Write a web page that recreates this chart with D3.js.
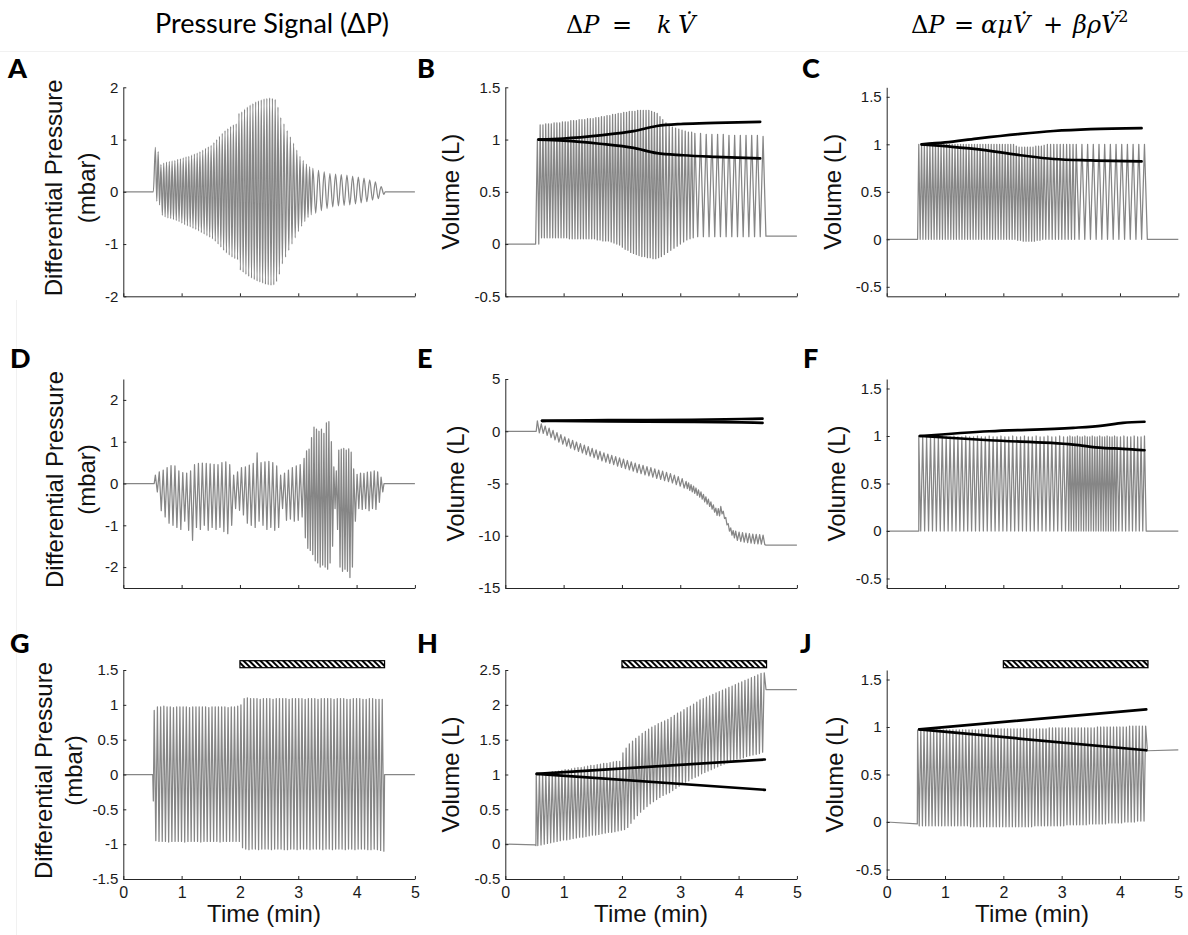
<!DOCTYPE html>
<html><head><meta charset="utf-8">
<script src="https://cdn.jsdelivr.net/npm/d3@7"></script>
<style>body{margin:0;background:#fff}svg{display:block}</style>
</head><body>
<svg id="chart" width="1188" height="935"></svg>
<script>
// ---------------- DATA ----------------
const timeTicks = [0, 1, 2, 3, 4, 5];
const hatchSpan = [2.0, 4.48];

// cycle index -> time (min) key points, one set per recording (row)
const row1CycleIdx = [0, 45, 55, 67];
const row1CycleT   = [0.55, 2.70, 3.25, 4.42];
const row2CycleIdx = [0, 38, 58, 66];
const row2CycleT   = [0.55, 3.10, 3.95, 4.42];
const row3CycleIdx = [0, 71];
const row3CycleT   = [0.53, 4.44];

// Panel A: pressure (mbar)
const aTicks = [-2, -1, 0, 1, 2];
const aPeaks = [0.85,0.77,0.52,0.55,0.57,0.58,0.59,0.60,0.62,0.63,
 0.65,0.67,0.68,0.70,0.72,0.74,0.77,0.80,0.83,0.86,
 0.89,0.94,1.00,1.06,1.12,1.17,1.21,1.25,1.28,1.30,
 1.50,1.53,1.58,1.62,1.66,1.69,1.72,1.74,1.76,1.78,
 1.79,1.80,1.79,1.77,1.62,1.42,1.30,1.17,1.05,0.93,
 0.80,0.68,0.60,0.53,0.48,0.45,0.41,0.38,0.35,0.34,
 0.33,0.32,0.30,0.28,0.26,0.23,0.19,0.10];
const aTroughs = [-0.18,-0.25,-0.45,-0.48,-0.50,-0.51,-0.53,-0.55,-0.57,-0.60,
 -0.63,-0.65,-0.67,-0.70,-0.72,-0.75,-0.78,-0.81,-0.84,-0.87,
 -0.90,-0.95,-1.00,-1.06,-1.12,-1.17,-1.21,-1.25,-1.28,-1.30,
 -1.50,-1.54,-1.58,-1.62,-1.65,-1.68,-1.71,-1.73,-1.75,-1.77,
 -1.78,-1.79,-1.78,-1.72,-1.58,-1.38,-1.25,-1.12,-1.00,-0.88,
 -0.76,-0.66,-0.57,-0.49,-0.44,-0.41,-0.36,-0.32,-0.29,-0.27,
 -0.26,-0.25,-0.23,-0.21,-0.19,-0.16,-0.13,-0.05];
const aLead = [[0,0],[0.515,0]];
const aTail = [[4.49,0],[5,0]];

// Panel B: volume, linear model (L)
const volTicks = [-0.5, 0, 0.5, 1, 1.5];
const bPeaks = [1.00,1.14,1.14,1.15,1.15,1.15,1.16,1.16,1.16,1.17,
 1.17,1.17,1.18,1.18,1.18,1.19,1.19,1.19,1.20,1.20,
 1.20,1.21,1.21,1.22,1.22,1.23,1.23,1.24,1.24,1.25,
 1.25,1.26,1.26,1.27,1.27,1.27,1.28,1.28,1.28,1.28,
 1.28,1.27,1.26,1.25,1.22,1.19,1.16,1.13,1.12,1.11,
 1.10,1.09,1.08,1.07,1.07,1.06,1.06,1.05,1.05,1.05,
 1.05,1.04,1.04,1.04,1.04,1.04,1.04,1.03];
const bTroughs = [0.00,0.06,0.06,0.06,0.06,0.06,0.06,0.06,0.06,0.06,
 0.06,0.05,0.05,0.05,0.05,0.05,0.05,0.05,0.05,0.05,
 0.05,0.04,0.04,0.03,0.03,0.03,0.02,0.01,0.00,-0.01,
 -0.03,-0.05,-0.06,-0.08,-0.09,-0.10,-0.11,-0.12,-0.12,-0.13,
 -0.13,-0.14,-0.14,-0.13,-0.12,-0.10,-0.08,-0.06,-0.04,-0.02,
 0.00,0.02,0.04,0.05,0.06,0.07,0.07,0.07,0.07,0.07,
 0.07,0.07,0.07,0.07,0.07,0.07,0.07,0.075];
const bLead = [[0,0],[0.52,0]];
const bTail = [[4.49,0.075],[5,0.075]];
const bFitUpper = [[0.57,1.0],[1.0,1.01],[1.62,1.04],[2.2,1.08],[2.6,1.13],[3.05,1.15],[3.6,1.16],[4.37,1.17]];
const bFitLower = [[0.57,1.0],[1.0,0.99],[1.62,0.96],[2.2,0.92],[2.6,0.87],[3.05,0.85],[3.6,0.835],[4.37,0.82]];

// Panel C: volume, quadratic model (L)
const cTicks = [-0.5, 0, 0.5, 1, 1.5];
const cPeaks = [1.00,1.00,1.00,1.00,1.00,1.00,1.00,1.00,1.00,1.00,
 1.00,1.00,1.00,1.00,1.00,1.00,1.00,1.00,1.00,1.00,
 1.00,1.00,1.00,1.00,1.00,1.00,1.00,1.00,1.00,1.00,
 1.00,1.00,1.00,1.00,1.00,0.98,0.97,0.97,0.97,0.97,
 0.97,0.97,0.98,0.98,0.98,0.99,1.00,1.00,1.00,1.00,
 1.00,1.00,1.00,1.00,1.00,1.00,1.00,1.00,1.00,1.00,
 1.00,1.00,1.00,1.00,1.00,1.00,1.00,1.00];
const cTroughs = [0.00,0.00,0.00,0.00,0.00,0.00,0.00,0.00,0.00,0.00,
 0.00,0.00,0.00,0.00,0.00,0.00,0.00,0.00,0.00,0.00,
 0.00,0.00,0.00,0.00,0.00,0.00,0.00,0.00,0.00,0.00,
 0.00,0.00,0.00,0.00,0.00,-0.01,-0.01,-0.02,-0.02,-0.02,
 -0.02,-0.02,-0.01,-0.01,0.00,0.00,0.00,0.00,0.00,0.00,
 0.00,0.00,0.00,0.00,0.00,0.00,0.00,0.00,0.00,0.00,
 0.00,0.00,0.00,0.00,0.00,0.00,0.00,0.00];
const cLead = [[0,0],[0.53,0]];
const cTail = [[4.49,0],[5,0]];
const cFitUpper = [[0.6,1.0],[1.0,1.02],[1.54,1.06],[2.29,1.11],[2.86,1.14],[3.5,1.16],[4.37,1.17]];
const cFitLower = [[0.6,1.0],[1.0,0.98],[1.54,0.95],[2.29,0.885],[2.86,0.845],[3.5,0.83],[4.37,0.82]];

// Panel D: pressure (mbar)
const dTicks = [-2, -1, 0, 1, 2];
const dPeaks = [0.20,0.28,0.32,0.38,0.43,0.42,0.30,0.26,0.25,0.30,
 0.45,0.48,0.49,0.48,0.47,0.46,0.45,0.50,0.52,0.45,
 0.20,0.28,0.38,0.40,0.44,0.48,0.73,0.50,0.52,0.53,
 0.50,0.42,0.20,0.25,0.32,0.38,0.42,0.45,0.60,0.78,
 0.82,1.10,1.35,1.30,1.25,1.30,1.20,1.45,1.48,1.00,
 0.40,0.30,0.80,0.82,0.84,0.80,0.83,0.75,0.35,0.22,
 0.25,0.24,0.27,0.28,0.30,0.28,0.15];
const dTroughs = [-0.20,-0.65,-0.80,-0.95,-1.00,-1.05,-1.10,-0.90,-1.12,-1.36,
 -1.05,-1.10,-1.00,-1.12,-1.05,-1.10,-1.05,-1.15,-1.20,-1.00,
 -0.60,-0.64,-0.75,-0.95,-1.00,-1.05,-0.90,-1.00,-1.10,-1.05,
 -1.12,-1.05,-0.60,-0.88,-0.85,-0.90,-0.88,-0.80,-1.30,-1.55,
 -1.60,-1.70,-1.85,-1.90,-2.00,-1.95,-2.00,-2.05,-1.90,-1.50,
 -0.60,-1.10,-2.00,-2.10,-2.05,-2.10,-2.25,-2.00,-0.90,-0.60,
 -0.62,-0.60,-0.65,-0.60,-0.62,-0.45,-0.20];
const dLead = [[0,0],[0.53,0]];
const dTail = [[4.47,0],[5,0]];

// Panel E: volume, linear model (L)
const eTicks = [-15, -10, -5, 0, 5];
const ePeaks = [1.00,0.70,0.50,0.30,0.08,-0.13,-0.33,-0.53,-0.72,-0.87,
 -1.03,-1.18,-1.33,-1.48,-1.63,-1.78,-1.93,-2.06,-2.18,-2.30,
 -2.43,-2.55,-2.67,-2.80,-2.92,-3.05,-3.16,-3.27,-3.38,-3.49,
 -3.60,-3.71,-3.82,-3.93,-4.05,-4.20,-4.35,-4.53,-4.80,-4.95,
 -5.10,-5.25,-5.43,-5.60,-5.80,-6.05,-6.27,-6.50,-6.75,-7.05,
 -7.35,-7.40,-7.20,-7.65,-8.25,-8.85,-9.25,-9.50,-9.55,-9.65,
 -9.70,-9.75,-9.80,-9.85,-9.87,-9.90,-9.95];
const eTroughs = [-0.15,-0.20,-0.40,-0.60,-0.82,-1.03,-1.23,-1.43,-1.62,-1.77,
 -1.93,-2.08,-2.23,-2.38,-2.53,-2.68,-2.83,-2.96,-3.08,-3.20,
 -3.33,-3.45,-3.57,-3.70,-3.82,-3.95,-4.06,-4.17,-4.28,-4.39,
 -4.50,-4.61,-4.72,-4.83,-4.95,-5.10,-5.25,-5.43,-5.50,-5.65,
 -5.80,-5.95,-6.13,-6.30,-6.50,-6.75,-6.97,-7.20,-7.45,-7.75,
 -8.05,-8.10,-7.90,-8.35,-8.95,-9.55,-9.95,-10.20,-10.45,-10.55,
 -10.60,-10.65,-10.70,-10.75,-10.77,-10.80,-10.85];
const eLead = [[0,0],[0.53,0]];
const eTail = [[4.47,-10.9],[5,-10.9]];
const eFitUpper = [[0.63,1.0],[1.76,1.06],[3.2,1.10],[4.05,1.17],[4.41,1.20]];
const eFitLower = [[0.63,1.0],[1.76,0.95],[3.2,0.90],[4.05,0.84],[4.41,0.80]];

// Panel F: volume, quadratic model (L)
const fTicks = [-0.5, 0, 0.5, 1, 1.5];
const fPeaks = [1.00,0.99,0.99,1.00,0.99,0.99,1.00,0.99,0.99,1.00,
 0.99,0.99,1.00,0.99,0.99,1.00,0.99,0.99,1.00,0.99,
 0.99,1.00,0.99,0.99,1.00,0.99,0.99,1.00,0.99,0.99,
 1.00,0.99,0.99,1.00,0.99,0.99,1.00,0.99,0.99,1.00,
 0.99,0.99,1.00,0.99,0.99,1.00,0.99,0.99,1.00,0.99,
 0.99,1.00,0.99,0.99,1.00,0.99,0.99,1.00,0.99,0.99,
 1.00,0.99,0.99,1.00,0.99,0.99,1.00];
const fTroughs = [0.00,0.00,0.00,0.00,0.00,0.00,0.00,0.00,0.00,0.00,
 0.00,0.00,0.00,0.00,0.00,0.00,0.00,0.00,0.00,0.00,
 0.00,0.00,0.00,0.00,0.00,0.00,0.00,0.00,0.00,0.00,
 0.00,0.00,0.00,0.00,0.00,0.00,0.00,0.00,0.00,0.00,
 0.00,0.00,0.00,0.00,0.00,0.00,0.00,0.00,0.00,0.00,
 0.00,0.00,0.00,0.00,0.00,0.00,0.00,0.00,0.00,0.00,
 0.00,0.00,0.00,0.00,0.00,0.00,0.00];
const fLead = [[0,0],[0.55,0]];
const fTail = [[4.47,0],[5,0]];
const fFitUpper = [[0.57,1.0],[1.76,1.05],[3.2,1.086],[3.7,1.11],[4.05,1.138],[4.42,1.15]];
const fFitLower = [[0.57,1.0],[1.76,0.955],[3.2,0.91],[3.7,0.875],[4.05,0.865],[4.42,0.85]];

// Panel G: pressure (mbar)
const gTicks = [-1.5, -1, -0.5, 0, 0.5, 1, 1.5];
const gPeaks = [0.92,0.97,0.97,0.98,0.97,0.97,0.96,0.97,0.97,0.97,
 0.97,0.96,0.97,0.97,0.97,0.97,0.97,0.96,0.97,0.97,
 0.97,0.97,0.97,0.96,0.97,0.97,0.98,1.00,1.09,1.10,
 1.09,1.09,1.09,1.08,1.09,1.09,1.09,1.08,1.09,1.09,
 1.09,1.09,1.08,1.09,1.09,1.09,1.09,1.08,1.09,1.09,
 1.09,1.08,1.09,1.09,1.09,1.09,1.08,1.09,1.09,1.09,
 1.08,1.08,1.09,1.09,1.09,1.08,1.08,1.09,1.09,1.08,
 1.08,1.08];
const gTroughs = [-0.95,-0.96,-0.96,-0.96,-0.97,-0.96,-0.96,-0.96,-0.96,-0.97,
 -0.96,-0.96,-0.96,-0.96,-0.97,-0.96,-0.96,-0.96,-0.96,-0.96,
 -0.97,-0.96,-0.96,-0.96,-0.96,-0.96,-0.96,-1.05,-1.07,-1.08,
 -1.07,-1.07,-1.08,-1.07,-1.07,-1.07,-1.08,-1.07,-1.07,-1.07,
 -1.08,-1.08,-1.07,-1.07,-1.08,-1.07,-1.07,-1.07,-1.08,-1.07,
 -1.07,-1.07,-1.08,-1.07,-1.07,-1.08,-1.07,-1.07,-1.07,-1.08,
 -1.07,-1.07,-1.08,-1.07,-1.07,-1.07,-1.08,-1.08,-1.07,-1.08,
 -1.09,-1.10];
const gLead = [[0,0],[0.505,0],[0.515,-0.38]];
const gTail = [[4.48,0],[5,0]];

// Panel H: volume, linear model (L)
const hTicks = [-0.5, 0, 0.5, 1, 1.5, 2, 2.5];
const hPeaks = [1.00,1.01,1.01,1.02,1.03,1.04,1.04,1.05,1.06,1.07,
 1.07,1.08,1.09,1.10,1.10,1.11,1.12,1.13,1.13,1.14,
 1.15,1.16,1.16,1.17,1.18,1.19,1.19,1.31,1.38,1.44,
 1.48,1.52,1.55,1.59,1.62,1.65,1.68,1.70,1.73,1.75,
 1.77,1.79,1.82,1.85,1.88,1.90,1.93,1.96,1.98,2.01,
 2.04,2.07,2.09,2.11,2.13,2.15,2.17,2.19,2.21,2.23,
 2.25,2.27,2.29,2.31,2.33,2.35,2.37,2.39,2.41,2.43,
 2.45,2.46];
const hTroughs = [-0.02,-0.01,0.00,0.01,0.02,0.03,0.04,0.05,0.06,0.06,
 0.07,0.08,0.09,0.10,0.10,0.11,0.12,0.13,0.13,0.14,
 0.15,0.16,0.17,0.17,0.18,0.19,0.20,0.21,0.24,0.30,
 0.36,0.41,0.46,0.50,0.54,0.58,0.61,0.64,0.67,0.70,
 0.72,0.74,0.77,0.80,0.83,0.86,0.89,0.91,0.94,0.96,
 0.98,1.01,1.03,1.05,1.07,1.09,1.11,1.13,1.15,1.17,
 1.18,1.20,1.22,1.23,1.24,1.26,1.27,1.28,1.29,1.30,
 1.32];
const hLead = [[0,0],[0.51,-0.01],[0.525,-0.02]];
const hTail = [[4.47,2.22],[5,2.22]];
const hFitUpper = [[0.54,1.01],[4.45,1.215]];
const hFitLower = [[0.54,1.01],[4.45,0.78]];

// Panel J: volume, quadratic model (L)
const jTicks = [-0.5, 0, 0.5, 1, 1.5];
const jPeaks = [0.97,0.97,0.97,0.97,0.97,0.97,0.97,0.97,0.97,0.97,
 0.97,0.97,0.97,0.97,0.97,0.97,0.97,0.97,0.97,0.97,
 0.97,0.98,0.98,0.98,0.98,0.98,0.98,0.98,0.98,0.98,
 0.98,0.98,0.98,0.98,0.98,0.98,0.98,0.98,0.98,0.98,
 0.98,0.99,0.99,0.99,0.99,0.99,0.99,0.99,0.99,0.99,
 0.99,0.99,0.99,0.99,0.99,0.99,1.00,1.00,1.00,1.00,
 1.00,1.00,1.00,1.00,1.00,1.00,1.01,1.01,1.01,1.01,
 1.01,1.01];
const jTroughs = [-0.04,-0.04,-0.04,-0.04,-0.04,-0.04,-0.04,-0.04,-0.04,-0.04,
 -0.04,-0.04,-0.04,-0.04,-0.04,-0.04,-0.05,-0.05,-0.05,-0.05,
 -0.05,-0.05,-0.05,-0.05,-0.05,-0.05,-0.05,-0.05,-0.05,-0.05,
 -0.05,-0.05,-0.05,-0.05,-0.05,-0.05,-0.04,-0.04,-0.04,-0.04,
 -0.04,-0.04,-0.04,-0.04,-0.04,-0.04,-0.03,-0.03,-0.03,-0.03,
 -0.03,-0.03,-0.03,-0.02,-0.02,-0.02,-0.02,-0.02,-0.02,-0.01,
 -0.01,-0.01,-0.01,-0.01,0.00,0.00,0.00,0.00,0.01,0.01,
 0.01];
const jLead = [[0,0],[0.525,-0.02]];
const jTail = [[4.47,0.75],[5,0.76]];
const jFitUpper = [[0.56,0.975],[4.45,1.185]];
const jFitLower = [[0.56,0.975],[4.45,0.755]];

// ---------------- LAYOUT ----------------
const colX = [123.3, 505.3, 886.7];
const colW = 291.6;
const rowY = [87.3, 379, 670];
const rowH = 209;
const sans = "'Liberation Sans', Arial, sans-serif";

const panels = [
 {L:"A", c:0, r:0, dom:[-2,2],     ticks:aTicks, pk:aPeaks, tr:aTroughs, lead:aLead, tail:aTail, ki:row1CycleIdx, kt:row1CycleT, smooth:true},
 {L:"B", c:1, r:0, dom:[-0.5,1.5], ticks:volTicks, pk:bPeaks, tr:bTroughs, lead:bLead, tail:bTail, ki:row1CycleIdx, kt:row1CycleT, fits:[bFitUpper,bFitLower]},
 {L:"C", c:2, r:0, dom:[-0.6,1.6], ticks:cTicks, pk:cPeaks, tr:cTroughs, lead:cLead, tail:cTail, ki:row1CycleIdx, kt:row1CycleT, fits:[cFitUpper,cFitLower]},
 {L:"D", c:0, r:1, dom:[-2.5,2.5], ticks:dTicks, pk:dPeaks, tr:dTroughs, lead:dLead, tail:dTail, ki:row2CycleIdx, kt:row2CycleT},
 {L:"E", c:1, r:1, dom:[-15,5],    ticks:eTicks, pk:ePeaks, tr:eTroughs, lead:eLead, tail:eTail, ki:row2CycleIdx, kt:row2CycleT, fits:[eFitUpper,eFitLower]},
 {L:"F", c:2, r:1, dom:[-0.6,1.6], ticks:fTicks, pk:fPeaks, tr:fTroughs, lead:fLead, tail:fTail, ki:row2CycleIdx, kt:row2CycleT, fits:[fFitUpper,fFitLower]},
 {L:"G", c:0, r:2, dom:[-1.5,1.5], ticks:gTicks, pk:gPeaks, tr:gTroughs, lead:gLead, tail:gTail, ki:row3CycleIdx, kt:row3CycleT},
 {L:"H", c:1, r:2, dom:[-0.5,2.5], ticks:hTicks, pk:hPeaks, tr:hTroughs, lead:hLead, tail:hTail, ki:row3CycleIdx, kt:row3CycleT, fits:[hFitUpper,hFitLower]},
 {L:"J", c:2, r:2, dom:[-0.6,1.6], ticks:jTicks, pk:jPeaks, tr:jTroughs, lead:jLead, tail:jTail, ki:row3CycleIdx, kt:row3CycleT, fits:[jFitUpper,jFitLower]}
];
const letterPos = {A:[8,78.3],B:[417,78.3],C:[802,78.3],D:[10,368.3],E:[417,368.3],F:[803,368.3],G:[10,653.3],H:[417,653.3],J:[800,653.3]};
const ylabX = {A:[53.5,86],B:450.5,C:832.5,D:[54,86.7],E:455,F:836.7,G:[43.3,73],H:450.7,J:834};
const timeLabelX = [264, 651, 1032];

// ---------------- DRAW ----------------
const svg = d3.select("#chart");
svg.append("rect").attr("width",1188).attr("height",935).attr("fill","#fff");
svg.append("line").attr("x1",0).attr("x2",1188).attr("y1",51.5).attr("y2",51.5).attr("stroke","#f1f1f1");
svg.append("line").attr("x1",16.5).attr("x2",16.5).attr("y1",300).attr("y2",935).attr("stroke","#f1f1f1");

const defs = svg.append("defs");
const pat = defs.append("pattern").attr("id","hatch").attr("patternUnits","userSpaceOnUse")
  .attr("width",4).attr("height",4).attr("patternTransform","rotate(-45)");
pat.append("rect").attr("width",4).attr("height",4).attr("fill","#fff");
pat.append("rect").attr("width",2).attr("height",4).attr("fill","#000");

panels.forEach(p => {
  const x0 = colX[p.c], y0 = rowY[p.r];
  const x = d3.scaleLinear().domain([0,5]).range([x0, x0 + colW]);
  const y = d3.scaleLinear().domain(p.dom).range([y0 + rowH, y0]);
  const cyc = d3.scaleLinear().domain(p.ki).range(p.kt);
  const pts = p.lead.slice();
  p.pk.forEach((v,i) => {
    pts.push([cyc(i), v]);
    if (i < p.tr.length) pts.push([cyc(i + 0.5), p.tr[i]]);
  });
  p.tail.forEach(d => pts.push(d));

  const g = svg.append("g");
  const line = d3.line().x(d => x(d[0])).y(d => y(d[1]))
     .curve(p.smooth ? d3.curveMonotoneX : d3.curveLinear);
  g.append("path").datum(pts).attr("d", line)
    .attr("fill","none").attr("stroke","#868686").attr("stroke-width",1.25).attr("stroke-linejoin","round");

  if (p.fits) {
    const fl = d3.line().x(d => x(d[0])).y(d => y(d[1])).curve(d3.curveMonotoneX);
    p.fits.forEach(f => g.append("path").datum(f).attr("d", fl)
      .attr("fill","none").attr("stroke","#000").attr("stroke-width",2.7).attr("stroke-linecap","round"));
  }

  const ax = svg.append("g").attr("transform",`translate(0,${y0 + rowH})`)
    .call(d3.axisBottom(x).tickValues(timeTicks).tickSize(-3).tickSizeOuter(0)
      .tickPadding(p.r === 2 ? 8 : 0).tickFormat(p.r === 2 ? d => String(d) : () => ""));
  const ay = svg.append("g").attr("transform",`translate(${x0},0)`)
    .call(d3.axisLeft(y).tickValues(p.ticks).tickSize(-3).tickSizeOuter(0).tickPadding(5).tickFormat(d => String(d)));
  [ax, ay].forEach(a => {
    a.select(".domain").attr("stroke","#262626").attr("stroke-width",1);
    a.selectAll(".tick line").attr("stroke","#262626");
    a.selectAll("text").attr("font-family", sans).attr("fill","#1a1a1a");
  });
  ay.selectAll("text").attr("font-size","15px");
  ax.selectAll("text").attr("font-size","16px");

  const cy = y0 + rowH / 2;
  if (p.c === 0) {
    const xs = ylabX[p.L];
    ["Differential Pressure","(mbar)"].forEach((t,k) => {
      svg.append("text").attr("transform",`translate(${xs[k]},${cy - 4}) rotate(-90)`)
        .attr("text-anchor","middle").attr("dominant-baseline","central")
        .attr("font-family",sans).attr("font-size","24px").attr("fill","#111").text(t);
    });
  } else {
    svg.append("text").attr("transform",`translate(${ylabX[p.L]},${cy}) rotate(-90)`)
      .attr("text-anchor","middle").attr("dominant-baseline","central")
      .attr("font-family",sans).attr("font-size","24px").attr("fill","#111").text("Volume (L)");
  }
  if (p.r === 2) {
    svg.append("text").attr("x", timeLabelX[p.c]).attr("y", 922).attr("text-anchor","middle")
      .attr("font-family",sans).attr("font-size","24px").attr("fill","#111").text("Time (min)");
    svg.append("rect").attr("x", x(hatchSpan[0])).attr("y", y0 - 9.3)
      .attr("width", x(hatchSpan[1]) - x(hatchSpan[0])).attr("height", 7)
      .attr("fill","url(#hatch)").attr("stroke","#000").attr("stroke-width",1.2);
  }
  svg.append("text").attr("x", letterPos[p.L][0]).attr("y", letterPos[p.L][1])
    .attr("font-family","Lato, 'Open Sans', sans-serif").attr("font-weight","900").attr("font-size","27px")
    .attr("fill","#000").text(p.L);
});

// column titles
svg.append("text").attr("x",272).attr("y",33).attr("text-anchor","middle")
  .attr("font-family","Lato, 'Open Sans', sans-serif").attr("font-size","27px").attr("fill","#000")
  .text("Pressure Signal (ΔP)");

const serif = "'DejaVu Serif', 'Liberation Serif', serif";
function mathTitle(parts) {
  const t = svg.append("text").attr("y",33).attr("font-family",serif).attr("font-size","24px").attr("fill","#000");
  parts.forEach(([s, x, it, extra]) => {
    const ts = t.append("tspan").text(s).attr("font-style", it ? "italic" : "normal");
    if (x != null) ts.attr("x", x);
    if (extra) Object.entries(extra).forEach(([k,v]) => ts.attr(k,v));
  });
}
mathTitle([["Δ",566,false],["P",null,true],["=",612,false],["k",657,true],["V\u0307",678,true]]);
mathTitle([["Δ",911,false],["P",null,true],["=",954,false],["αμV\u0307",981,true],["+",1043,false],
           ["βρV\u0307",1073,true],["2",null,false,{"font-size":"16px","dy":"-11"}]]);
</script>
</body></html>
